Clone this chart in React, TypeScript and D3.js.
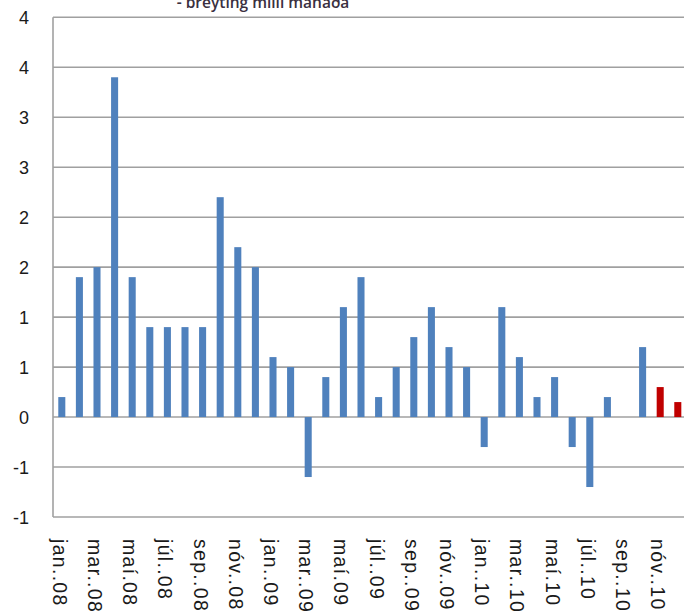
import React from "react";
import * as d3 from "d3";

const months = [
  "jan..08","feb..08","mar..08","apr..08","maí.08","jún..08","júl..08","ágú..08","sep..08","okt..08","nóv..08","des..08",
  "jan..09","feb..09","mar..09","apr..09","maí.09","jún..09","júl..09","ágú..09","sep..09","okt..09","nóv..09","des..09",
  "jan..10","feb..10","mar..10","apr..10","maí.10","jún..10","júl..10","ágú..10","sep..10","okt..10","nóv..10","des..10",
];

// Actual month-on-month change (jan.08 – okt.10)
const actualValues = [
  0.2, 1.4, 1.5, 3.4, 1.4, 0.9, 0.9, 0.9, 0.9, 2.2, 1.7, 1.5,
  0.6, 0.5, -0.6, 0.4, 1.1, 1.4, 0.2, 0.5, 0.8, 1.1, 0.7, 0.5,
  -0.3, 1.1, 0.6, 0.2, 0.4, -0.3, -0.7, 0.2, 0, 0.7,
];

// Forecast (nóv.10 – des.10)
const forecastMonths = ["nóv..10", "des..10"];
const forecastValues = [0.3, 0.15];

const tickLabels = [
  "jan..08","mar..08","maí.08","júl..08","sep..08","nóv..08",
  "jan..09","mar..09","maí.09","júl..09","sep..09","nóv..09",
  "jan..10","mar..10","maí.10","júl..10","sep..10","nóv..10",
];

const yTicks = [-1, -0.5, 0, 0.5, 1, 1.5, 2, 2.5, 3, 3.5, 4];

const title = "- breyting milli mánaða";

export default function App() {
  const W = 684;
  const H = 612;
  const left = 53;
  const top = 17.3;
  const bottom = 517;
  const right = 53 + 36 * 17.6;

  const x = d3.scaleBand<string>().domain(months).range([left, right]).paddingInner(0.6).paddingOuter(0.3);
  const y = d3.scaleLinear().domain([-1, 4]).range([bottom, top]);

  const fmt = (v: number) => {
    const r = v >= 0 ? Math.floor(v + 0.5) : -Math.floor(-v + 0.5);
    return String(r);
  };

  const actual = actualValues.map((v, i) => ({ m: months[i], v }));
  const forecast = forecastValues.map((v, i) => ({ m: forecastMonths[i], v }));

  const bar = (d: { m: string; v: number }, color: string, key: string) => {
    if (d.v === 0) return null;
    const x0 = x(d.m)!;
    const y0 = y(Math.max(0, d.v));
    const y1 = y(Math.min(0, d.v));
    return <rect key={key} x={x0} y={y0} width={x.bandwidth()} height={y1 - y0} fill={color} />;
  };

  return (
    <svg width={W} height={H} style={{ position: "absolute", left: 0, top: 0, background: "#fff" }}>
      <text x={263} y={8} textAnchor="middle" fontFamily="Open Sans, Liberation Sans, sans-serif" fontWeight={600} fontSize={15.5} fill="#3a3040">
        {title}
      </text>
      {yTicks.map((t) => (
        <line key={"g" + t} x1={left} x2={W + 5} y1={y(t)} y2={y(t)} stroke="#a0a0a0" strokeWidth={1.6} />
      ))}
      <line x1={left} x2={left} y1={top} y2={bottom} stroke="#a0a0a0" strokeWidth={1.6} />
      {yTicks.map((t) => (
        <text key={"t" + t} x={29} y={y(t) + 6.5} textAnchor="end" fontFamily="Liberation Sans, Arial, sans-serif" fontSize={18} fill="#1a1a1a">
          {fmt(t)}
        </text>
      ))}
      {actual.map((d, i) => bar(d, "#4f81bd", "a" + i))}
      {forecast.map((d, i) => bar(d, "#c00000", "f" + i))}
      {tickLabels.map((lab, i) => {
        const cx = x(months[i * 2])! + x.bandwidth() / 2 - 2;
        return (
          <text
            key={"x" + i}
            transform={`translate(${cx},539) rotate(90)`}
            dominantBaseline="central"
            fontFamily="Liberation Sans, Arial, sans-serif"
            fontSize={19.5}
            letterSpacing={1.3}
            fill="#1a1a1a"
          >
            {lab}
          </text>
        );
      })}
    </svg>
  );
}
